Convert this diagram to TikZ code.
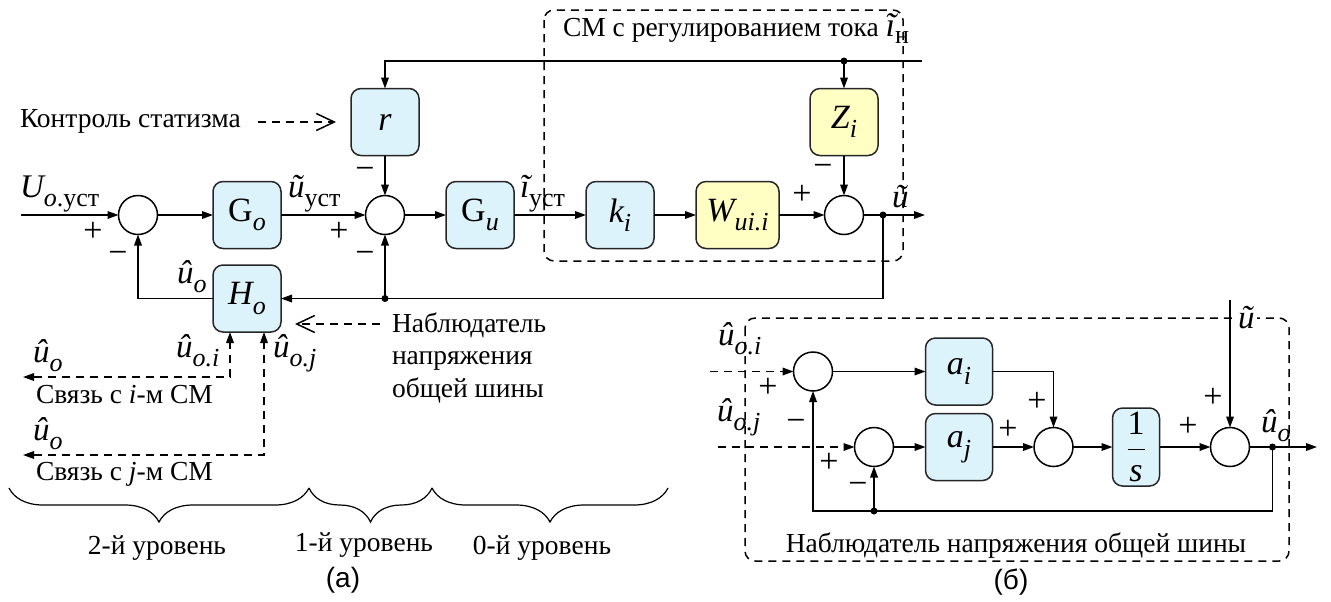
\documentclass[tikz,border=0pt]{standalone}
\usepackage{amsmath}
\usepackage{fontspec}
\setmainfont{Liberation Serif}
\newfontfamily\sansf{Liberation Sans}
\usetikzlibrary{arrows.meta,decorations.pathreplacing,calc}
\definecolor{cblue}{HTML}{DDF3FC}
\definecolor{cyel}{HTML}{FFFFC4}
\newcommand{\mv}[1]{{\itshape #1}}
\newcommand{\msub}[1]{\raisebox{-0.28em}{\fontsize{13}{15}\selectfont #1}}
\begin{document}
\begin{tikzpicture}[x=0.5pt,y=-0.5pt,
  every node/.style={inner sep=0pt, outer sep=0pt},
  blk/.style={draw=black!85, line width=0.75pt, rounded corners=5pt, minimum width=34pt, minimum height=33.5pt, font=\fontsize{17}{19}\selectfont},
  blu/.style={blk, fill=cblue},
  yel/.style={blk, fill=cyel},
  sumc/.style={circle, draw, line width=0.75pt, minimum size=19.5pt, fill=white},
  ln/.style={line width=0.75pt},
  arr/.style={ln, -{Triangle[length=5.5pt,width=3.8pt]}},
  dsh/.style={ln, dash pattern=on 4pt off 3pt},
  darr/.style={dsh, -{Triangle[length=5.5pt,width=3.8pt]}},
  ddarr/.style={dsh, {Triangle[length=5.5pt,width=3.8pt]}-{Triangle[length=5.5pt,width=3.8pt]}},
  jdot/.style={circle, fill, inner sep=0pt, minimum size=3.5pt},
  sgn/.style={font=\fontsize{17}{18}\selectfont},
  lbl/.style={font=\fontsize{16.5}{18}\selectfont},
  txt/.style={font=\fontsize{13.75}{16}\selectfont},
  brc/.style={decorate, decoration={brace, mirror, amplitude=17pt}, line width=0.6pt},
  barb/.style={dsh, -{Straight Barb[length=9pt,width=8.5pt]}}
]
\useasboundingbox (0,0) rectangle (1331,601);

% ---------- (a) ----------
\draw[dsh, rounded corners=5pt] (544,10) rectangle (903,261);

\node[sumc] (s1) at (138,215) {};
\node[blu] (Go) at (247,215) {G\msub{\textit{o}}};
\node[sumc] (s2) at (385,215) {};
\node[blu] (r) at (385,122) {\mv{r}};
\node[blu] (Gu) at (480,215) {G\msub{\textit{u}}};
\node[blu] (ki) at (620,215) {\mv{k}\msub{\textit{i}}};
\node[yel, minimum width=41.5pt] (W) at (737.5,215) {\mv{W}\msub{\textit{ui.i}}};
\node[sumc] (s3) at (844,215) {};
\node[yel] (Z) at (844,122) {\mv{Z}\msub{\textit{i}}};
\node[blu] (Ho) at (247,298.5) {\mv{H}\msub{\textit{o}}};

\coordinate (in) at (21,215);
\coordinate (uo) at (883,215);
\coordinate (out) at (925,215);
\coordinate (tl) at (385,61);
\coordinate (tr) at (922,61);
\coordinate (tz) at (844,61);
\coordinate (fb) at (385,298.5);

\draw[arr] (in) -- (s1);
\draw[arr] (s1) -- (Go);
\draw[arr] (Go) -- (s2);
\draw[arr] (s2) -- (Gu);
\draw[arr] (Gu) -- (ki);
\draw[arr] (ki) -- (W);
\draw[arr] (W) -- (s3);
\draw[arr] (s3) -- (out);
\draw[arr] (tr) -- (tl) -- (r);
\draw[arr] (tz) -- (Z);
\draw[arr] (Z) -- (s3);
\draw[arr] (r) -- (s2);
\draw[arr] (uo) |- (Ho);
\draw[arr] (fb) -- (s2);
\draw[arr] (Ho) -| (s1);
\node[jdot] at (uo) {};
\node[jdot] at (tz) {};
\node[jdot] at (fb) {};

\coordinate (li) at (23,377);
\coordinate (lj) at (23,455);
\draw[ddarr] (li) -| ($(Ho.south)+(-17,0)$);
\draw[ddarr] (lj) -| ($(Ho.south)+(17,0)$);

\coordinate (ks) at (258,122);
\draw[barb, shorten >=7.5pt] (ks) -- (r);
\coordinate (ns) at (380,324);
\draw[barb, shorten >=7pt] (ns) -- (ns -| Ho.east);

% labels (a)
\node[txt, anchor=base west] at (20,127) {Контроль статизма};
\node[txt, anchor=base west] at (563,36) {СМ с регулированием тока {\fontsize{17}{18}\selectfont\itshape ĩ}\msub{н}};
\node[lbl, anchor=base west] at (20,197) {\mv{U}\msub{\textit{o}.уст}};
\node[lbl, anchor=base west] at (288,197) {\mv{ũ}\msub{уст}};
\node[lbl, anchor=base west] at (520,197) {\mv{ĩ}\msub{уст}};
\node[lbl, anchor=base west] at (892,207) {\mv{ũ}};
\node[lbl, anchor=base west] at (177,283) {\mv{û}\msub{\textit{o}}};
\node[lbl, anchor=base west] at (176,357) {\mv{û}\msub{\textit{o.i}}};
\node[lbl, anchor=base west] at (273,357) {\mv{û}\msub{\textit{o.j}}};
\node[lbl, anchor=base west] at (33,362) {\mv{û}\msub{\textit{o}}};
\node[lbl, anchor=base west] at (33,440) {\mv{û}\msub{\textit{o}}};
\node[txt, anchor=base west] at (36,403) {Связь с \textit{i}-м СМ};
\node[txt, anchor=base west] at (36,480) {Связь с \textit{j}-м СМ};
\node[txt, anchor=base west] at (392,332) {Наблюдатель};
\node[txt, anchor=base west] at (392,364.5) {напряжения};
\node[txt, anchor=base west] at (392,397) {общей шины};

\node[sgn] at (93,232) {+};
\node[sgn] at (118,257) {−};
\node[sgn] at (339,232) {+};
\node[sgn] at (365,173) {−};
\node[sgn] at (365,257) {−};
\node[sgn] at (802,195) {+};
\node[sgn] at (823,170) {−};

% braces
\draw[brc] (9,488) -- (309,488);
\draw[brc] (309,488) -- (432,488);
\draw[brc] (432,488) -- (668,488);
\node[txt] at (157,548) {2-й уровень};
\node[txt] at (364,545) {1-й уровень};
\node[txt] at (542,548) {0-й уровень};
\node[font=\sansf\fontsize{14}{16}\selectfont] at (343,580) {(а)};

% ---------- (б) ----------
\draw[dsh, rounded corners=5pt] (745,318) rectangle (1289,561);

\node[sumc] (si) at (813,371.5) {};
\node[blu, minimum width=33.5pt] (ai) at (959,371.5) {\mv{a}\msub{\textit{i}}};
\node[sumc] (sj) at (874,447) {};
\node[blu, minimum width=33.5pt] (aj) at (959,447) {\mv{a}\msub{\textit{j}}};
\node[sumc] (sc) at (1053.5,447) {};
\node[blu, minimum width=23.5pt, minimum height=39pt] (integ) at (1136,447) {$\displaystyle\frac{\text{1}}{\text{\itshape s}}$};
\node[sumc] (so) at (1230,447) {};

\coordinate (uot) at (1272.5,447);
\coordinate (bout) at (1317,447);
\coordinate (ut) at (1230,300);
\coordinate (fbj) at (874,511);
\coordinate (ini) at (710,371.5);
\coordinate (inj) at (718,447);

\draw[darr] (ini) -- (si);
\draw[darr] (inj) -- (sj);
\draw[arr] (si) -- (ai);
\draw[arr] (ai) -| (sc);
\draw[arr] (sj) -- (aj);
\draw[arr] (aj) -- (sc);
\draw[arr] (sc) -- (integ);
\draw[arr] (integ) -- (so);
\draw[arr] (so) -- (bout);
\draw[arr] (ut) -- (so);
\draw[arr] (uot) |- (fbj) -| (si);
\draw[arr] (fbj) -- (sj);
\node[jdot] at (uot) {};
\node[jdot] at (fbj) {};

\node[lbl, anchor=base west] at (718,345) {\mv{û}\msub{\textit{o.i}}};
\node[lbl, anchor=base west] at (717,421) {\mv{û}\msub{\textit{o.j}}};
\node[lbl, anchor=base west, fill=white, inner xsep=1pt] at (1236,328) {\mv{ũ}};
\node[lbl, anchor=base west] at (1261,432) {\mv{û}\msub{\textit{o}}};

\node[sgn] at (768,388) {+};
\node[sgn] at (796,425) {−};
\node[sgn] at (829,463) {+};
\node[sgn] at (858,488) {−};
\node[sgn] at (1008,430) {+};
\node[sgn] at (1037,402) {+};
\node[sgn] at (1188,427) {+};
\node[sgn] at (1213,398) {+};

\node[txt, anchor=base] at (1016,552) {Наблюдатель напряжения общей шины};
\node[font=\sansf\fontsize{14}{16}\selectfont] at (1011,582) {(б)};
\end{tikzpicture}
\end{document}
